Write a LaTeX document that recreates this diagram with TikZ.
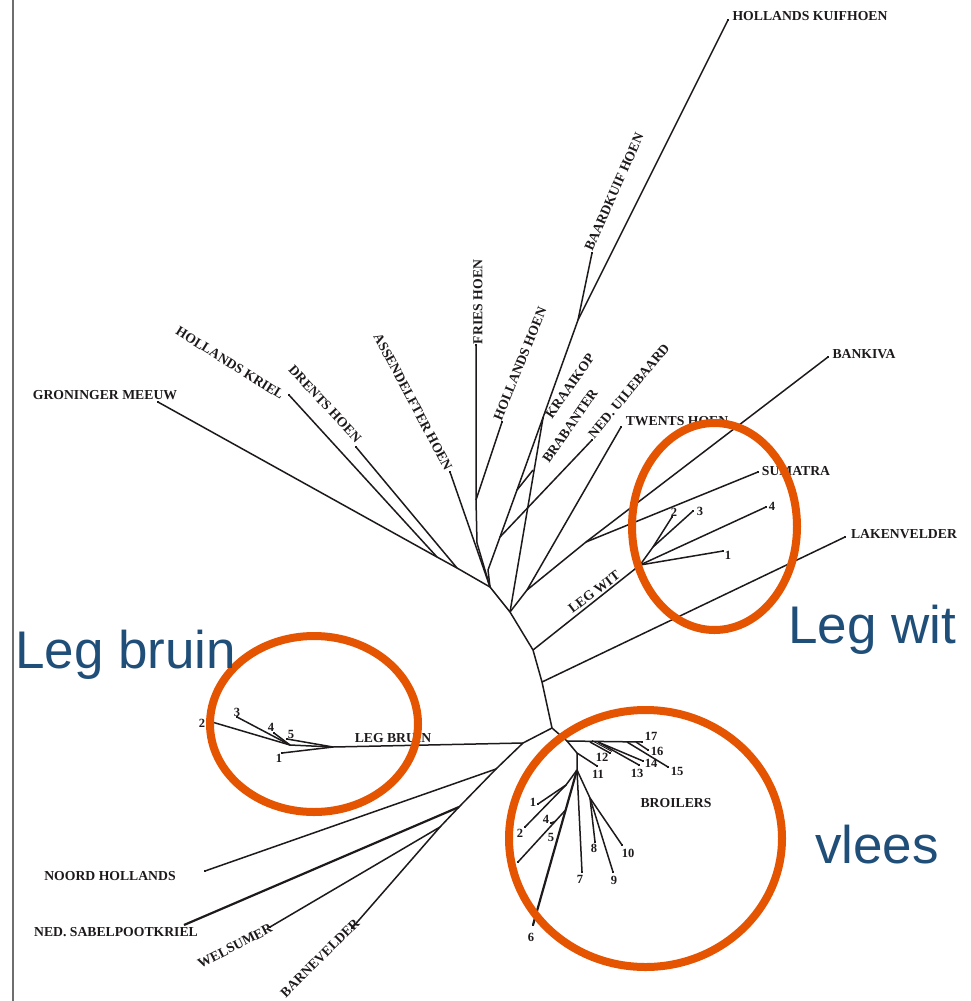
\documentclass[tikz,border=0pt]{standalone}
\usepackage{fontspec}
\setmainfont{Liberation Serif}
\newfontfamily\bigsans{Liberation Sans}
\usetikzlibrary{calc}
\definecolor{ringc}{RGB}{229,84,0}
\definecolor{bluec}{RGB}{31,78,121}
\definecolor{inkc}{RGB}{30,26,27}
\definecolor{edgec}{RGB}{110,110,110}
\begin{document}
\begin{tikzpicture}[x=1pt,y=-1pt,
 br/.style={draw=inkc,line width=1.5pt,line join=round},
 thk/.style={draw=inkc,line width=2.2pt},
 lab/.style={inner sep=0pt,font=\fontsize{13.7}{16}\selectfont\bfseries,text=inkc},
 num/.style={inner sep=0pt,font=\fontsize{12.5}{14}\selectfont\bfseries,text=inkc},
 ring/.style={draw=ringc,line width=8pt},
 big/.style={inner sep=0pt,anchor=base west,font=\bigsans\fontsize{53}{60}\selectfont,text=bluec},
 tip/.style={fill=inkc}]
\useasboundingbox (0,0) rectangle (971,1001);
\fill[white] (0,0) rectangle (971,1001);
% left rule
\coordinate (e1) at (13,0); \coordinate (e2) at (13,1001);
\draw[edgec,line width=1.2pt] (e1) -- (e2);

% ---------- coordinates ----------
% spine
\coordinate (J1) at (490,587); \coordinate (J2) at (510,612);
\coordinate (J3) at (533,650); \coordinate (J4) at (542,682);
\coordinate (S) at (552,728);
% left top group
\coordinate (G1) at (437,557); \coordinate (G2) at (457,568);
\coordinate (lGron) at (158,402); \coordinate (lHKriel) at (289,395);
\coordinate (lDrents) at (356,447); \coordinate (lAssen) at (450,472);
\coordinate (F0) at (477,543); \coordinate (F1) at (476,500);
\coordinate (lFries) at (476,345); \coordinate (lHHoen) at (502,422);
% kuif group
\coordinate (K0) at (488,570); \coordinate (K1) at (500,537);
\coordinate (K2) at (517,490); \coordinate (K3) at (578,320);
\coordinate (lUile) at (592,440); \coordinate (lBrab) at (533,470);
\coordinate (lKuif) at (728,20); \coordinate (lBaard) at (592,253);
\coordinate (lKraai) at (543,418);
% twents / bankiva / sumatra
\coordinate (T1) at (527,590); \coordinate (lTwents) at (621,427);
\coordinate (BS) at (586,542); \coordinate (lBank) at (828,357);
\coordinate (lSum) at (758,472);
% leg wit
\coordinate (LW) at (640,565); \coordinate (LW2) at (653,547);
\coordinate (w1) at (723,551); \coordinate (w2) at (672,517);
\coordinate (w3) at (693,511); \coordinate (w4) at (766,507);
\coordinate (lLaken) at (845,537);
% leg bruin
\coordinate (L1) at (523,743); \coordinate (H) at (333,747);
\coordinate (C) at (290,745);
\coordinate (b1) at (282,753); \coordinate (b2) at (212,722);
\coordinate (b3) at (237,717); \coordinate (b4) at (274,733);
\coordinate (b5) at (287,739);
% lower left
\coordinate (L2) at (496,769); \coordinate (lNoord) at (205,871);
\coordinate (N1) at (459,807); \coordinate (N2) at (440,827);
\coordinate (lSabel) at (184,925); \coordinate (lWels) at (270,927);
\coordinate (lBarn) at (352,928);
% broilers
\coordinate (BR) at (567,741); \coordinate (B2) at (577,753);
\coordinate (T) at (577,770); \coordinate (V) at (566,785);
\coordinate (W) at (565.6,810); \coordinate (X) at (590,798);
\coordinate (r1) at (538,804); \coordinate (r2) at (525,827);
\coordinate (r3) at (518,862); \coordinate (r4) at (551,823);
\coordinate (r5) at (557,841); \coordinate (r6) at (533,925);
\coordinate (r7) at (582,872); \coordinate (r8) at (595,842);
\coordinate (r9) at (613,872); \coordinate (r10) at (622,845);
\coordinate (r11) at (597,766); \coordinate (r17) at (642,742);
\coordinate (P1) at (590,742); \coordinate (r12) at (610,753);
\coordinate (P2) at (598,742); \coordinate (r13) at (639,765);
\coordinate (r14) at (643,761); \coordinate (P3) at (627,742);
\coordinate (r15) at (668,767); \coordinate (P4) at (636,742);
\coordinate (r16) at (648,750);

% ---------- branches ----------
\draw[br] (J1) -- (J2) -- (J3) -- (J4) -- (S);
\draw[br] (lGron) -- (G1) -- (G2) -- (J1);
\draw[br] (lHKriel) -- (G1);
\draw[br] (lDrents) -- (G2);
\draw[br] (lAssen) -- (J1);
\draw[br] (lFries) -- (F1) -- (F0) -- (J1);
\draw[br] (lHHoen) -- (F1);
\draw[br] (J1) -- (K0) -- (K1) -- (K2) -- (K3) -- (lKuif);
\draw[br] (K3) -- (lBaard);
\draw[br] (K1) -- (lUile);
\draw[br] (K2) -- (lBrab);
\draw[br] (J2) -- (lKraai);
\draw[br] (J2) -- (T1) -- (lTwents);
\draw[br] (T1) -- (BS) -- (lBank);
\draw[br] (BS) -- (lSum);
\draw[br] (J3) -- (LW) -- (w1);
\draw[br] (LW) -- (w4);
\draw[br] (LW) -- (LW2) -- (w2);
\draw[br] (LW2) -- (w3);
\draw[br] (J4) -- (lLaken);
% leg bruin
\draw[br] (S) -- (L1) -- (H) -- (b1);
\draw[br] (H) -- (C) -- (b2);
\draw[br] (C) -- (b3);
\draw[br] (C) -- (b4);
\draw[br] (H) -- (b5);
% lower left
\draw[br] (L1) -- (L2) -- (lNoord);
\draw[br] (L2) -- (N1) -- (N2) -- (lWels);
\draw[thk] (N1) -- (lSabel);
\draw[br] (N2) -- (lBarn);
% broilers
\draw[br] (S) -- (BR) -- (r17);
\draw[br] (BR) -- (B2) -- (r11);
\draw[br] (B2) -- (T) -- (r7);
\draw[br] (T) -- (V) -- (r1);
\draw[br] (V) -- (r2);
\draw[thk] (T) -- (r6);
\draw[br] (W) -- (r3);
\draw[br] ($(W)!0.22!(r3)$) -- (r4);
\draw[br] (T) -- (X) -- (r8);
\draw[br] (X) -- (r9);
\draw[br] (X) -- (r10);
\draw[br] (P1) -- (r12);
\draw[br,line width=0.9pt] ($(P1)+(2,-1.5)$) -- ($(r12)+(2,-1.5)$);
\draw[br] (P2) -- (r14);
\draw[br] (P2) -- (r13);
\draw[br] (P3) -- (r15);
\draw[br] (P4) -- (r16);

% leaf tips
\foreach \p in {lGron,lHKriel,lDrents,lAssen,lFries,lHHoen,lUile,lKuif,lBaard,lKraai,lTwents,lBank,lSum,w1,w2,w3,w4,lLaken,b1,b2,b3,b4,b5,lNoord,lWels,lBarn,r1,r2,r3,r4,r5,r6,r7,r8,r9,r10,r11,r12,r13,r14,r15,r16,r17}
  \fill[tip] ($(\p)+(-1.1,-1.1)$) rectangle ($(\p)+(1.1,1.1)$);

% ---------- labels ----------
\node[lab] (tKuif) at (810,16) {HOLLANDS KUIFHOEN};
\node[lab,rotate=66] (tBaard) at (614,192) {BAARDKUIF HOEN};
\node[lab,rotate=90] (tFries) at (478,302) {FRIES HOEN};
\node[lab,rotate=68] (tHHoen) at (520,364) {HOLLANDS HOEN};
\node[lab,rotate=55] (tKraai) at (570,386) {KRAAIKOP};
\node[lab,rotate=55] (tBrab) at (570,426) {BRABANTER};
\node[lab,rotate=50] (tUile) at (629,391) {NED. UILEBAARD};
\node[lab] (tTwents) at (677,421) {TWENTS HOEN};
\node[lab] (tBank) at (864,354) {BANKIVA};
\node[lab] (tSum) at (796,471) {SUMATRA};
\node[lab] (tLaken) at (904,534) {LAKENVELDER};
\node[lab] (tGron) at (105,395) {GRONINGER MEEUW};
\node[lab,rotate=-32] (tHKriel) at (230,363) {HOLLANDS KRIEL};
\node[lab,rotate=-47] (tDrents) at (325,404) {DRENTS HOEN};
\node[lab,rotate=-62] (tAssen) at (413,402) {ASSENDELFTER HOEN};
\node[lab,rotate=37] (tLegWit) at (594,592) {LEG WIT};
\node[lab] (tLegBruin) at (393,738) {LEG BRUIN};
\node[lab] (tBroilers) at (676,803) {BROILERS};
\node[lab] (tNoord) at (110,876) {NOORD HOLLANDS};
\node[lab] (tSabel) at (116,932) {NED. SABELPOOTKRIEL};
\node[lab,rotate=27] (tWels) at (235,946) {WELSUMER};
\node[lab,rotate=45] (tBarn) at (320,958) {BARNEVELDER};

% leg wit numbers
\node[num] (nw2) at (674,512) {2};
\node[num] (nw3) at (700,511) {3};
\node[num] (nw4) at (772,506) {4};
\node[num] (nw1) at (728,555) {1};
% leg bruin numbers
\node[num] (nb2) at (202,723) {2};
\node[num] (nb3) at (237,712) {3};
\node[num] (nb4) at (271,727) {4};
\node[num] (nb5) at (291,734) {5};
\node[num] (nb1) at (279,758) {1};
% broiler numbers
\node[num] (nr17) at (651,736) {17};
\node[num] (nr16) at (657,751) {16};
\node[num] (nr14) at (651,763) {14};
\node[num] (nr15) at (677,771) {15};
\node[num] (nr13) at (637,773) {13};
\node[num] (nr12) at (602,757) {12};
\node[num] (nr11) at (598,774) {11};
\node[num] (nr1) at (533,802) {1};
\node[num] (nr2) at (520,833) {2};
\node[num] (nr4) at (546,819) {4};
\node[num] (nr5) at (551,837) {5};
\node[num] (nr6) at (531,937) {6};
\node[num] (nr7) at (580,879) {7};
\node[num] (nr8) at (594,848) {8};
\node[num] (nr9) at (614,880) {9};
\node[num] (nr10) at (628,853) {10};

% ---------- rings ----------
\draw[ring] (314,724) ellipse [x radius=104pt, y radius=88pt];
\draw[ring] (714.5,526.5) ellipse [x radius=82.5pt, y radius=103.5pt];
\draw[ring] (645.5,838.5) ellipse [x radius=136.5pt, y radius=128.5pt];

% ---------- big labels ----------
\node[big] (gBruin) at (15,668) {Leg bruin};
\node[big] (gWit) at (788,643) {Leg wit};
\node[big] (gVlees) at (815,863) {vlees};
\end{tikzpicture}
\end{document}
